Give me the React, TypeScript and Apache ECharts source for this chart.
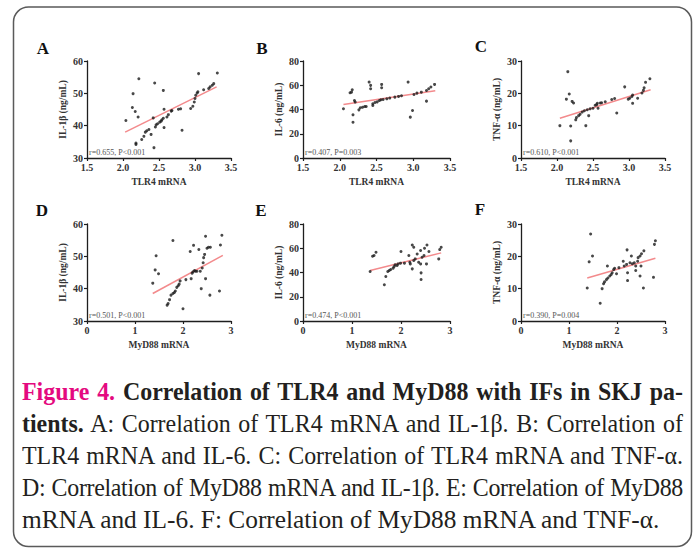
import React, { useEffect, useRef } from "react";
import * as echarts from "echarts";

const FONT = "'Liberation Serif', 'Times New Roman', Times, serif";

// ---- data ----
const TLR4_IL1B: [number, number][] = [
  [2.04, 41.6], [2.13, 45.6], [2.14, 49.9], [2.17, 44.4], [2.18, 34.6], [2.18, 34.2], [2.21, 42.7], [2.22, 54.5],
  [2.26, 35.7], [2.29, 36.7], [2.31, 38.0], [2.33, 38.4], [2.36, 38.8], [2.39, 37.3], [2.42, 42.4], [2.43, 33.2],
  [2.44, 53.2], [2.45, 39.6], [2.46, 40.3], [2.48, 40.6], [2.51, 41.1], [2.53, 41.4], [2.54, 41.8], [2.56, 42.3],
  [2.56, 50.9], [2.57, 45.1], [2.57, 39.4], [2.61, 42.7], [2.63, 43.4], [2.67, 44.5], [2.68, 44.7], [2.77, 45.1],
  [2.80, 45.2], [2.82, 38.6], [2.94, 45.3], [2.97, 46.0], [2.99, 47.3], [3.00, 48.4], [3.01, 49.4], [3.03, 50.1],
  [3.04, 50.5], [3.05, 56.1], [3.12, 51.1], [3.19, 51.5], [3.21, 52.0], [3.24, 52.5], [3.26, 53.0], [3.31, 56.3],
];
const TLR4_IL6: [number, number][] = [
  [2.05, 40.6], [2.14, 53.8], [2.16, 54.3], [2.17, 56.3], [2.18, 35.6], [2.18, 29.5], [2.20, 47.4], [2.21, 46.1],
  [2.26, 39.7], [2.28, 41.4], [2.31, 41.9], [2.34, 42.5], [2.36, 42.5], [2.40, 62.6], [2.42, 59.9], [2.42, 57.1],
  [2.45, 43.3], [2.45, 44.7], [2.48, 45.8], [2.51, 46.3], [2.54, 47.4], [2.56, 48.0], [2.57, 60.7], [2.57, 57.9],
  [2.59, 48.3], [2.64, 48.8], [2.68, 49.4], [2.75, 50.2], [2.80, 50.8], [2.84, 51.3], [2.93, 62.6], [2.96, 33.7],
  [2.99, 39.2], [3.01, 52.4], [3.05, 53.5], [3.11, 54.3], [3.18, 46.9], [3.18, 55.7], [3.21, 57.1], [3.24, 58.5],
  [3.29, 60.7],
];
const TLR4_TNF: [number, number][] = [
  [2.04, 10.0], [2.13, 18.2], [2.15, 26.7], [2.17, 19.8], [2.19, 9.9], [2.19, 5.3], [2.21, 17.5], [2.23, 17.0],
  [2.26, 11.8], [2.27, 12.5], [2.30, 13.1], [2.32, 13.5], [2.35, 14.2], [2.38, 14.6], [2.40, 10.0], [2.42, 14.9],
  [2.44, 13.1], [2.46, 15.2], [2.50, 15.4], [2.53, 16.3], [2.55, 16.5], [2.56, 16.9], [2.57, 15.4], [2.60, 17.0],
  [2.62, 17.1], [2.67, 17.4], [2.76, 18.1], [2.80, 18.4], [2.83, 13.9], [2.94, 22.0], [2.99, 18.2], [3.01, 18.5],
  [3.04, 19.0], [3.05, 19.5], [3.05, 16.9], [3.12, 18.5], [3.18, 20.1], [3.20, 20.9], [3.21, 21.7], [3.23, 23.4],
  [3.29, 24.5],
];
const MYD88_IL1B: [number, number][] = [
  [1.37, 41.7], [1.42, 45.8], [1.44, 50.2], [1.49, 44.6], [1.67, 34.9], [1.69, 35.4], [1.72, 36.6], [1.75, 38.0],
  [1.79, 38.5], [1.79, 54.9], [1.82, 38.8], [1.84, 39.3], [1.87, 40.4], [1.90, 40.9], [1.92, 41.4], [1.94, 42.4],
  [2.00, 33.8], [2.06, 42.8], [2.15, 51.5], [2.17, 43.1], [2.19, 44.8], [2.21, 45.2], [2.22, 53.4], [2.24, 45.6],
  [2.26, 45.4], [2.29, 45.4], [2.33, 52.1], [2.36, 45.4], [2.38, 40.0], [2.40, 46.4], [2.42, 48.0], [2.43, 49.6],
  [2.45, 50.6], [2.47, 56.2], [2.47, 43.1], [2.50, 52.5], [2.53, 52.8], [2.56, 38.0], [2.57, 52.8], [2.76, 39.3],
  [2.78, 53.5], [2.81, 56.5],
];
const MYD88_IL6: [number, number][] = [
  [1.37, 40.8], [1.42, 53.4], [1.45, 54.0], [1.49, 56.7], [1.66, 29.9], [1.69, 36.7], [1.73, 40.8], [1.76, 41.6],
  [1.79, 42.5], [1.84, 43.6], [1.86, 44.9], [1.88, 46.3], [1.92, 45.8], [1.94, 47.1], [1.99, 47.7], [2.00, 57.3],
  [2.07, 47.7], [2.16, 54.0], [2.18, 48.5], [2.19, 47.1], [2.23, 62.7], [2.23, 43.0], [2.26, 60.8], [2.26, 49.9],
  [2.29, 51.2], [2.33, 55.3], [2.36, 48.5], [2.40, 58.1], [2.40, 47.1], [2.41, 39.7], [2.41, 34.2], [2.43, 52.6],
  [2.47, 54.0], [2.48, 60.0], [2.52, 47.1], [2.53, 62.7], [2.57, 57.3], [2.77, 51.2], [2.79, 58.9], [2.82, 60.8],
];
const MYD88_TNF: [number, number][] = [
  [1.38, 10.2], [1.42, 18.3], [1.45, 26.9], [1.49, 20.1], [1.65, 5.5], [1.69, 10.0], [1.72, 11.5], [1.74, 12.1],
  [1.78, 12.8], [1.80, 17.0], [1.81, 13.3], [1.85, 13.9], [1.88, 14.4], [1.90, 14.9], [1.93, 15.9], [1.95, 16.3],
  [1.99, 14.6], [2.04, 16.5], [2.13, 18.5], [2.15, 17.0], [2.20, 17.5], [2.21, 22.0], [2.22, 14.9], [2.22, 12.5],
  [2.27, 18.0], [2.30, 20.1], [2.32, 17.7], [2.36, 18.0], [2.39, 17.0], [2.39, 15.6], [2.43, 18.5], [2.44, 19.6],
  [2.48, 20.1], [2.48, 13.9], [2.50, 17.0], [2.51, 20.8], [2.55, 10.2], [2.56, 21.7], [2.76, 13.5], [2.78, 23.7],
  [2.80, 24.8],
];

// regression lines (end points)
const FIT_A: [number, number][] = [[2.03, 38.0], [3.30, 52.0]];
const FIT_B: [number, number][] = [[2.05, 44.1], [3.30, 55.4]];
const FIT_C: [number, number][] = [[2.04, 12.3], [3.30, 21.1]];
const FIT_D: [number, number][] = [[1.37, 38.5], [2.83, 50.3]];
const FIT_E: [number, number][] = [[1.37, 41.6], [2.82, 56.2]];
const FIT_F: [number, number][] = [[1.38, 13.3], [2.80, 19.4]];

const PANEL_LETTERS = ["A", "B", "C", "D", "E", "F"];
const STATS = [
  "r=0.655, P<0.001",
  "r=0.407, P=0.003",
  "r=0.610, P<0.001",
  "r=0.501, P<0.001",
  "r=0.474, P<0.001",
  "r=0.390, P=0.004",
];
const X_NAMES = ["TLR4 mRNA", "TLR4 mRNA", "TLR4 mRNA", "MyD88 mRNA", "MyD88 mRNA", "MyD88 mRNA"];
const Y_NAMES = ["IL-1β (ng/mL)", "IL-6 (ng/mL)", "TNF-α (ng/mL)", "IL-1β (ng/mL)", "IL-6 (ng/mL)", "TNF-α (ng/mL)"];
const TLR4_TICKS = [1.5, 2.0, 2.5, 3.0, 3.5];
const MYD88_TICKS = [0, 1, 2, 3];
const IL1B_TICKS = [30, 40, 50, 60];
const IL6_TICKS = [0, 20, 40, 60, 80];
const TNF_TICKS = [0, 10, 20, 30];

// caption: [magenta bold, dark bold, regular]
const CAPTION_LINES = [
  ["Figure 4.", " Correlation of TLR4 and MyD88 with IFs in SKJ pa-", ""],
  ["", "tients.", " A: Correlation of TLR4 mRNA and IL-1β. B: Correlation of"],
  ["", "", "TLR4 mRNA and IL-6. C: Correlation of TLR4 mRNA and TNF-α."],
  ["", "", "D: Correlation of MyD88 mRNA and IL-1β. E: Correlation of MyD88"],
  ["", "", "mRNA and IL-6. F: Correlation of MyD88 mRNA and TNF-α."],
];

// ---- layout ----
const PANELS = [
  { data: TLR4_IL1B, fit: FIT_A, xt: TLR4_TICKS, yt: IL1B_TICKS },
  { data: TLR4_IL6, fit: FIT_B, xt: TLR4_TICKS, yt: IL6_TICKS },
  { data: TLR4_TNF, fit: FIT_C, xt: TLR4_TICKS, yt: TNF_TICKS },
  { data: MYD88_IL1B, fit: FIT_D, xt: MYD88_TICKS, yt: IL1B_TICKS },
  { data: MYD88_IL6, fit: FIT_E, xt: MYD88_TICKS, yt: IL6_TICKS },
  { data: MYD88_TNF, fit: FIT_F, xt: MYD88_TICKS, yt: TNF_TICKS },
];
const COL_LEFT = [87, 303, 521];
const COL_W = [144, 147, 144];
const ROW_TOP = [61, 224];
const ROW_H = [97, 97];
const LETTER_POS = [[43, 48], [262, 48], [481, 46], [42, 210], [261, 210], [480, 209]];
const CAP_SCALE = [0.92, 0.92, 0.92, 0.92, 0.975];
const CAP_JUSTIFY = [true, true, true, true, false];
const CAP_LINE_W = 661;

function buildOption() {
  const grid: any[] = [];
  const xAxis: any[] = [];
  const yAxis: any[] = [];
  const series: any[] = [];
  const graphic: any[] = [];

  graphic.push({
    type: "rect",
    shape: { x: 13.5, y: 7, width: 678, height: 539.5, r: 15 },
    style: { fill: "none", stroke: "#5a5a5a", lineWidth: 1.5 },
    silent: true,
  });

  PANELS.forEach((p, i) => {
    const col = i % 3;
    const row = Math.floor(i / 3);
    const left = COL_LEFT[col];
    const top = ROW_TOP[row];
    const width = COL_W[col];
    const height = ROW_H[row];
    grid.push({ left, top, width, height, containLabel: false });
    const xMin = p.xt[0];
    const xMax = p.xt[p.xt.length - 1];
    const xInt = p.xt[1] - p.xt[0];
    const yMin = p.yt[0];
    const yMax = p.yt[p.yt.length - 1];
    const yInt = p.yt[1] - p.yt[0];
    const decimals = xInt < 1 ? 1 : 0;
    const axisCommon = {
      type: "value",
      gridIndex: i,
      splitLine: { show: false },
      axisLine: { show: true, onZero: false, lineStyle: { color: "#1e1e1e", width: 1.3 } },
      axisTick: { show: true, length: 3, lineStyle: { color: "#1e1e1e", width: 1.2 } },
    };
    xAxis.push({
      ...axisCommon,
      min: xMin,
      max: xMax,
      interval: xInt,
      axisLabel: {
        fontFamily: FONT,
        fontSize: 10,
        fontWeight: "bold",
        color: "#333",
        margin: 4,
        formatter: (v: number) => v.toFixed(decimals),
      },
      name: X_NAMES[i],
      nameLocation: "middle",
      nameGap: 19,
      nameTextStyle: { fontFamily: FONT, fontSize: 9.5, fontWeight: "bold", color: "#333" },
    });
    yAxis.push({
      ...axisCommon,
      min: yMin,
      max: yMax,
      interval: yInt,
      axisLabel: { fontFamily: FONT, fontSize: 10, fontWeight: "bold", color: "#333", margin: 4 },
      name: Y_NAMES[i],
      nameLocation: "middle",
      nameGap: 19,
      nameRotate: 90,
      nameTextStyle: { fontFamily: FONT, fontSize: 9.5, fontWeight: "bold", color: "#333" },
    });
    series.push({
      type: "scatter",
      xAxisIndex: i,
      yAxisIndex: i,
      data: p.data,
      symbol: "circle",
      symbolSize: 3,
      itemStyle: { color: "#1a1a1a" },
      z: 3,
    });
    series.push({
      type: "line",
      xAxisIndex: i,
      yAxisIndex: i,
      data: p.fit,
      showSymbol: false,
      symbol: "none",
      lineStyle: { color: "#f38a8c", width: 1.5 },
      z: 2,
    });
    graphic.push({
      type: "text",
      x: LETTER_POS[i][0],
      y: LETTER_POS[i][1],
      style: {
        text: PANEL_LETTERS[i],
        fontFamily: FONT,
        fontSize: 17,
        fontWeight: "bold",
        fill: "#111",
        textAlign: "center",
        textVerticalAlign: "middle",
      },
      silent: true,
    });
    graphic.push({
      type: "text",
      x: left + 2,
      y: top + height - 6,
      style: {
        text: STATS[i],
        fontFamily: FONT,
        fontSize: 8,
        fill: "#555",
        textAlign: "left",
        textVerticalAlign: "middle",
      },
      silent: true,
    });
  });

  return { animation: false, backgroundColor: "#fff", grid, xAxis, yAxis, series, graphic };
}

export default function App() {
  const ref = useRef<HTMLDivElement>(null);
  useEffect(() => {
    const chart = echarts.init(ref.current!, null, { renderer: "svg" });
    chart.setOption(buildOption() as any);
    return () => chart.dispose();
  }, []);
  return (
    <div style={{ position: "absolute", left: 0, top: 0, width: 697, height: 548, background: "#fff", overflow: "hidden" }}>
      <div ref={ref} style={{ position: "absolute", left: 0, top: 0, width: 697, height: 548 }} />
      <div
        style={{
          position: "absolute",
          left: 22,
          top: 376,
          fontFamily: FONT,
          fontSize: 26,
          lineHeight: "32px",
          color: "#231f20",
        }}
      >
        {CAPTION_LINES.map((ln, k) => (
          <div
            key={k}
            style={{
              width: CAP_LINE_W / CAP_SCALE[k],
              height: 32,
              transform: `scaleX(${CAP_SCALE[k]})`,
              transformOrigin: "0 0",
              textAlign: CAP_JUSTIFY[k] ? "justify" : "left",
              textAlignLast: CAP_JUSTIFY[k] ? "justify" : "left",
              letterSpacing: k === 3 ? "-0.35px" : "0px",
              whiteSpace: "normal",
            }}
          >
            {ln[0] ? <span style={{ color: "#e4097f", fontWeight: "bold" }}>{ln[0]}</span> : null}
            {ln[1] ? <span style={{ fontWeight: "bold" }}>{ln[1]}</span> : null}
            {ln[2] ? <span>{ln[2]}</span> : null}
          </div>
        ))}
      </div>
    </div>
  );
}
